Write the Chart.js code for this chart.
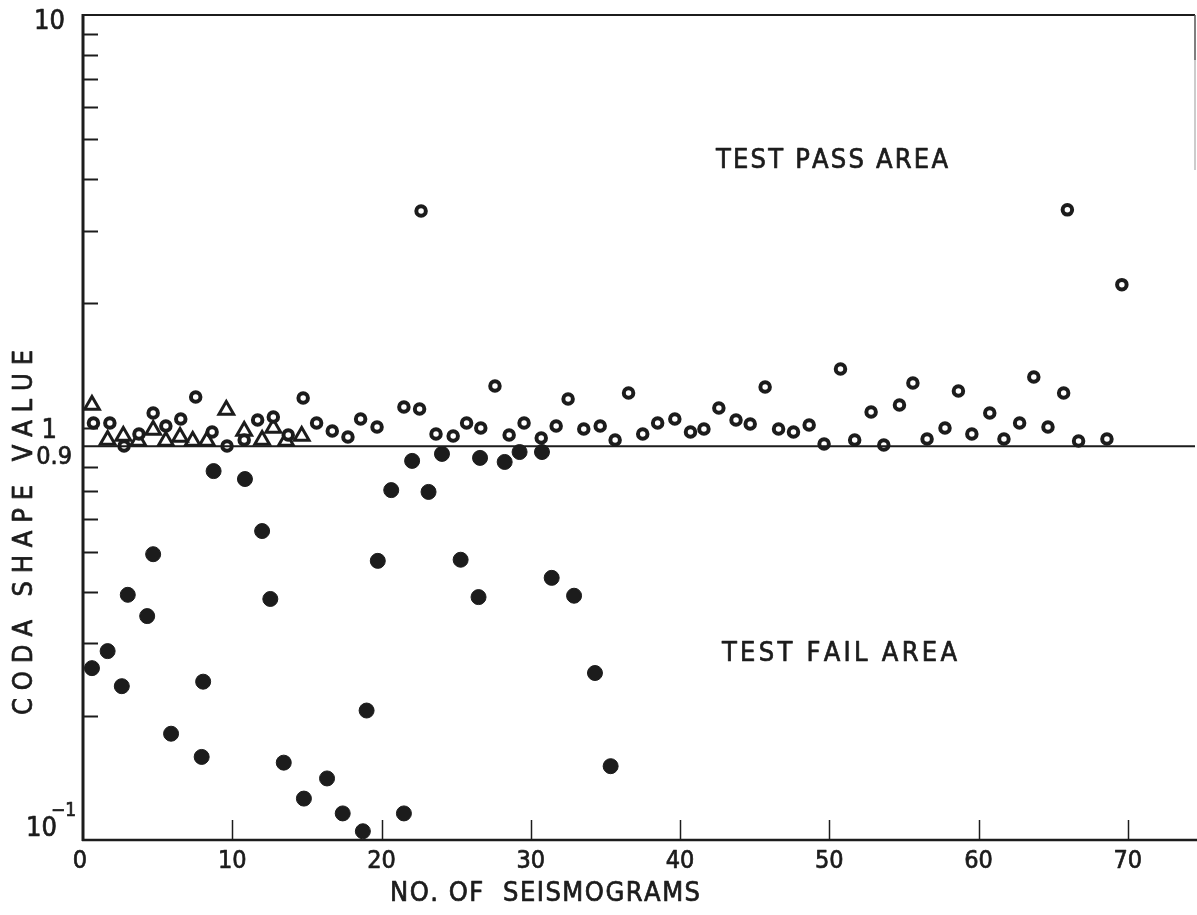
<!DOCTYPE html>
<html>
<head>
<meta charset="utf-8">
<script src="https://cdn.jsdelivr.net/npm/chart.js@4/dist/chart.umd.min.js"></script>
<style>
  html, body { margin: 0; padding: 0; background: #fff; }
  #wrap { width: 1197px; height: 915px; position: relative; }
</style>
</head>
<body>
<div id="wrap"><canvas id="c" width="1197" height="915"></canvas></div>
<script>
// Coda shape values per seismogram (log scale), split by test outcome.
const passCircleX = [0.7, 1.8, 2.75, 3.75, 4.7, 5.55, 6.55, 7.55, 8.65, 9.65, 10.8, 11.7, 12.75, 13.75, 14.75, 15.65, 16.7, 17.75, 18.6, 19.7,
  21.5, 22.55, 22.65, 23.65, 24.8, 25.7, 26.65, 27.6, 28.55, 29.55, 30.7, 31.7, 32.5, 33.55, 34.65, 35.65, 36.55, 37.5, 38.5, 39.65,
  40.7, 41.6, 42.6, 43.75, 44.7, 45.7, 46.6, 47.6, 48.65, 49.65, 50.75, 51.7, 52.8, 53.65, 54.7, 55.6, 56.55, 57.75, 58.65, 59.55,
  60.75, 61.7, 62.75, 63.7, 64.65, 65.7, 65.95, 66.7, 68.6, 69.6];
const passCircleY = [1.025, 1.025, 0.902, 0.964, 1.084, 1.008, 1.049, 1.186, 0.975, 0.902, 0.933, 1.043, 1.06, 0.959, 1.179, 1.025, 0.981, 0.948, 1.049, 1.003,
  1.121, 1.109, 3.35, 0.964, 0.954, 1.025, 0.997, 1.261, 0.959, 1.025, 0.943, 1.008, 1.172, 0.992, 1.008, 0.933, 1.212, 0.964, 1.025, 1.049,
  0.975, 0.992, 1.115, 1.043, 1.02, 1.254, 0.992, 0.975, 1.014, 0.912, 1.386, 0.933, 1.09, 0.907, 1.134, 1.282, 0.938, 0.997, 1.226, 0.964,
  1.084, 0.938, 1.025, 1.326, 1.003, 1.212, 3.37, 0.927, 0.938, 2.22];

const passTriangleX = [0.6, 1.65, 2.7, 3.7, 4.7, 5.55, 6.5, 7.35, 8.3, 9.6, 10.8, 12.0, 12.75, 13.6, 14.65];
const passTriangleY = [1.134, 0.933, 0.954, 0.927, 0.986, 0.927, 0.948, 0.927, 0.927, 1.103, 0.981, 0.933, 0.997, 0.927, 0.954];

const failX = [0.6, 1.65, 2.6, 3.0, 4.3, 4.7, 5.9, 8.05, 7.95, 8.75, 10.85, 12.0, 12.55, 13.45, 14.8, 16.35, 17.4, 18.75, 19.0, 19.75,
  20.65, 21.5, 22.05, 23.15, 24.05, 25.3, 26.6, 26.5, 28.25, 29.25, 30.75, 31.4, 32.9, 34.3, 35.35];
const failY = [0.261, 0.287, 0.236, 0.393, 0.349, 0.493, 0.181, 0.242, 0.159, 0.784, 0.75, 0.561, 0.384, 0.154, 0.126, 0.141, 0.116, 0.105, 0.206, 0.475,
  0.705, 0.116, 0.83, 0.698, 0.863, 0.478, 0.844, 0.388, 0.825, 0.872, 0.872, 0.432, 0.391, 0.254, 0.151];

const THRESHOLD = 0.9;
const X_MIN = 0, X_MAX = 74.5;
const Y_MIN = 0.1, Y_MAX = 10;
const X_TICKS = [10, 20, 30, 40, 50, 60, 70];
const X_TICK_LABELS = [0, 10, 20, 30, 40, 50, 60, 70];
const Y_MINOR_TICKS = [0.2, 0.3, 0.4, 0.5, 0.6, 0.7, 0.8, 1, 2, 3, 4, 5, 6, 7, 8, 9];

const INK = '#1c1c1c';
const FONT = "'DejaVu Sans Condensed','Liberation Sans Narrow','DejaVu Sans',sans-serif";

const pts = (xs, ys) => xs.map((x, i) => ({ x, y: ys[i] }));

// Filled text with a thin outline so the lettering reads slightly heavier.
function inkText(ctx, text, x, y) {
  ctx.fillText(text, x, y);
  ctx.strokeText(text, x, y);
}

// Draws a string spread evenly across a given width.
function spreadText(ctx, text, left, baseline, width, size) {
  ctx.font = size + 'px ' + FONT;
  const widths = [...text].map(ch => ctx.measureText(ch).width);
  const total = widths.reduce((a, b) => a + b, 0);
  const gap = text.length > 1 ? (width - total) / (text.length - 1) : 0;
  let x = left;
  ctx.textAlign = 'left';
  ctx.textBaseline = 'alphabetic';
  [...text].forEach((ch, i) => { inkText(ctx, ch, x, baseline); x += widths[i] + gap; });
}

const frame = {
  id: 'frame',
  afterDraw(chart) {
    const { ctx, chartArea: a, scales: { x: xs, y: ys } } = chart;
    ctx.save();
    ctx.strokeStyle = INK;
    ctx.fillStyle = INK;
    ctx.lineCap = 'butt';

    // left axis
    ctx.lineWidth = 3;
    ctx.beginPath(); ctx.moveTo(a.left, a.top - 1); ctx.lineTo(a.left, a.bottom + 1); ctx.stroke();
    // bottom axis
    ctx.lineWidth = 2.5;
    ctx.beginPath(); ctx.moveTo(a.left - 1, a.bottom); ctx.lineTo(a.right + 2, a.bottom); ctx.stroke();
    // top border
    ctx.lineWidth = 2;
    ctx.beginPath(); ctx.moveTo(a.left - 1, a.top); ctx.lineTo(a.right, a.top); ctx.stroke();
    // right border (short)
    ctx.lineWidth = 1.5;
    ctx.strokeStyle = '#555';
    ctx.beginPath(); ctx.moveTo(a.right, a.top); ctx.lineTo(a.right, a.top + 45); ctx.stroke();
    ctx.strokeStyle = '#bbb';
    ctx.beginPath(); ctx.moveTo(a.right, a.top + 45); ctx.lineTo(a.right, a.top + 155); ctx.stroke();
    ctx.strokeStyle = INK;

    // inward y ticks
    ctx.lineWidth = 2;
    Y_MINOR_TICKS.forEach(v => {
      const y = Math.round(ys.getPixelForValue(v)) + 0.5;
      ctx.beginPath(); ctx.moveTo(a.left, y); ctx.lineTo(a.left + 15, y); ctx.stroke();
    });
    // inward x ticks
    ctx.lineWidth = 1.5;
    X_TICKS.forEach(v => {
      const x = Math.round(xs.getPixelForValue(v)) + 0.5;
      ctx.beginPath(); ctx.moveTo(x, a.bottom); ctx.lineTo(x, a.bottom - 20); ctx.stroke();
    });

    // all lettering below gets a thin outline
    ctx.lineWidth = 0.7;
    ctx.lineJoin = 'round';

    // x tick labels
    ctx.font = '25px ' + FONT;
    ctx.textAlign = 'center';
    ctx.textBaseline = 'middle';
    X_TICK_LABELS.forEach(v => {
      inkText(ctx, String(v), xs.getPixelForValue(v) - (v === 0 ? 3 : 0), a.bottom + 21);
    });

    // y tick labels
    ctx.textAlign = 'right';
    ctx.font = '27px ' + FONT;
    inkText(ctx, '10', a.left - 18, ys.getPixelForValue(10) + 7);
    inkText(ctx, '1', a.left - 26, ys.getPixelForValue(1) + 3);
    ctx.font = '25px ' + FONT;
    inkText(ctx, '0.9', a.left - 11, ys.getPixelForValue(THRESHOLD) + 11);
    const yb = ys.getPixelForValue(0.1);
    ctx.font = '27px ' + FONT;
    inkText(ctx, '10', a.left - 26, yb - 11);
    ctx.font = '19px ' + FONT;
    ctx.textAlign = 'left';
    inkText(ctx, '\u22121', a.left - 32, yb - 29);

    // axis titles
    spreadText(ctx, 'NO. OF  SEISMOGRAMS', 390, 901, 310, 27);
    ctx.save();
    ctx.translate(32, 715);
    ctx.rotate(-Math.PI / 2);
    spreadText(ctx, 'CODA SHAPE VALUE', 0, 0, 365, 27);
    ctx.restore();

    // area annotations
    spreadText(ctx, 'TEST PASS AREA', 716, 168, 232, 27);
    spreadText(ctx, 'TEST FAIL AREA', 722, 661, 235, 27);

    ctx.restore();
  }
};

new Chart(document.getElementById('c'), {
  type: 'scatter',
  data: {
    datasets: [
      {
        type: 'line',
        label: 'threshold',
        data: [{ x: X_MIN, y: THRESHOLD }, { x: X_MAX, y: THRESHOLD }],
        borderColor: INK,
        borderWidth: 2,
        pointRadius: 0,
        fill: false
      },
      {
        label: 'pass (circle)',
        data: pts(passCircleX, passCircleY),
        pointStyle: 'circle',
        radius: 4.75,
        borderWidth: 4,
        borderColor: INK,
        backgroundColor: '#fff'
      },
      {
        label: 'pass (triangle)',
        data: pts(passTriangleX, passTriangleY),
        pointStyle: 'triangle',
        radius: 8.5,
        borderWidth: 3,
        borderColor: INK,
        backgroundColor: 'rgba(255,255,255,0)'
      },
      {
        label: 'fail',
        data: pts(failX, failY),
        pointStyle: 'circle',
        radius: 7.5,
        borderWidth: 1,
        borderColor: INK,
        backgroundColor: INK
      }
    ]
  },
  options: {
    responsive: false,
    animation: false,
    devicePixelRatio: 1,
    layout: { autoPadding: false, padding: { left: 83, right: 2, top: 15, bottom: 75 } },
    plugins: { legend: { display: false }, tooltip: { enabled: false } },
    scales: {
      x: { type: 'linear', min: X_MIN, max: X_MAX, display: false },
      y: { type: 'logarithmic', min: Y_MIN, max: Y_MAX, display: false }
    }
  },
  plugins: [frame]
});
</script>
</body>
</html>
